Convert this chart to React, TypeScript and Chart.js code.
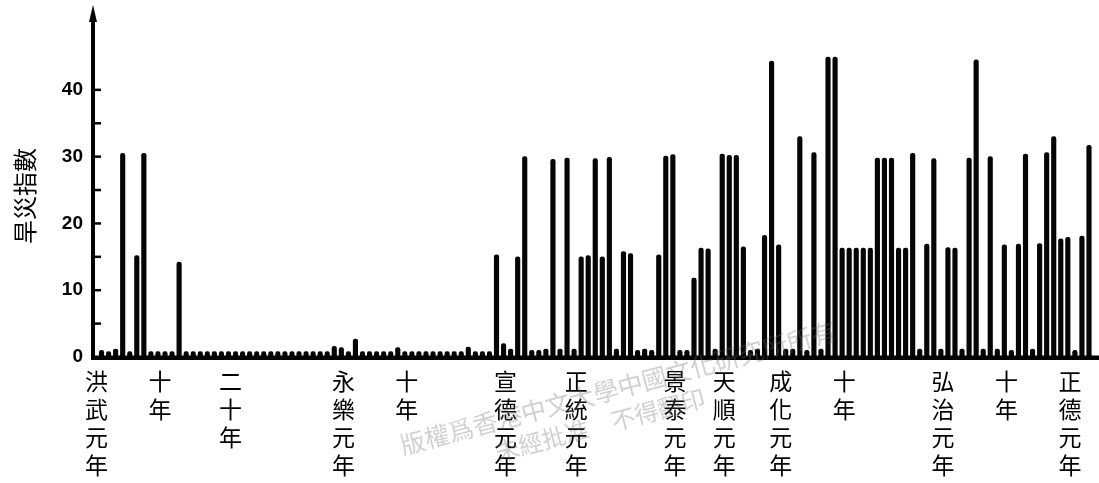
import React, { useEffect, useRef } from 'react';
import { Chart, registerables } from 'chart.js';

Chart.register(...registerables);

// Years from 洪武元年 (1368) to 1508
const firstYear = 1368;
const lastYear = 1508;
const years: string[] = [];
for (let y = firstYear; y <= lastYear; y++) years.push(String(y));

// Drought index, 1368-1423
const droughtEarly: number[] = [
  1, 0.8, 1.2, 30.5, 0.8, 15.2, 30.5, 0.8, 0.8, 0.8, 0.8, 14.2,
  0.8, 0.8, 0.8, 0.8, 0.8, 0.8, 0.8, 0.8, 0.8, 0.8, 0.8, 0.8, 0.8, 0.8, 0.8, 0.8, 0.8, 0.8, 0.8, 0.8, 0.8,
  1.6, 1.4, 0.8, 2.7,
  0.8, 0.8, 0.8, 0.8, 0.8,
  1.4,
  0.8, 0.8, 0.8, 0.8, 0.8, 0.8, 0.8, 0.8, 0.8,
  1.5, 0.8, 0.8, 0.8,
];

// Drought index, 1424-1508
const droughtLate: number[] = [
  15.3, 2, 1.2, 15, 30, 1, 1, 1.2, 29.6, 1.2,
  29.8, 1.2, 15, 15.2, 29.7, 15, 29.9, 1.2, 15.8, 15.5,
  1, 1.2, 1, 15.3, 30.1, 30.3, 1, 1, 11.8, 16.3,
  16.2, 1.2, 30.4, 30.2, 30.2, 16.5, 1, 1.2, 18.2, 44.3,
  16.8, 1.2, 1.2, 33, 1, 30.6, 1.2, 44.9, 44.9, 16.3,
  16.3, 16.3, 16.3, 16.3, 29.8, 29.8, 29.8, 16.3, 16.3, 30.5,
  1.2, 16.9, 29.7, 1.2, 16.4, 16.3, 1.2, 29.8, 44.5, 1.2,
  30, 1.2, 16.8, 1, 16.9, 30.4, 1.2, 17, 30.6, 33,
  17.7, 17.9, 1, 18.1, 31.7,
];

const droughtValues: number[] = [...droughtEarly, ...droughtLate];

// Reign-year tick labels
const labelYears: number[] = [1368, 1377, 1387, 1403, 1412, 1426, 1436, 1450, 1457, 1465, 1474, 1488, 1497, 1506];
const labelTexts: string[] = [
  '洪武元年', '十年', '二十年', '永樂元年', '十年', '宣德元年', '正統元年',
  '景泰元年', '天順元年', '成化元年', '十年', '弘治元年', '十年', '正德元年',
];

const yTicks: number[] = [0, 10, 20, 30, 40];
const yTitle = '旱災指數';
const watermark1 = '版權爲香港中文大學中國文化研究所所有';
const watermark2 = '未經批准　不得翻印';

const CJK = '"Noto Sans CJK TC", "Noto Sans CJK SC", sans-serif';

const decorPlugin = {
  id: 'decor',
  afterDraw(chart: any) {
    const { ctx, chartArea, scales } = chart;
    const ys = scales.y;
    const y0 = ys.getPixelForValue(0);
    const axisX = chartArea.left - 5;
    ctx.save();
    ctx.fillStyle = '#000';
    ctx.strokeStyle = '#000';
    // baseline
    ctx.fillRect(axisX - 2, y0 - 1.5, chart.width - axisX + 2, 4.5);
    // y axis line
    ctx.fillRect(axisX - 2, 16, 4, y0 + 3 - 16);
    // arrow head
    ctx.beginPath();
    ctx.moveTo(axisX, 5);
    ctx.lineTo(axisX - 4, 22);
    ctx.lineTo(axisX + 4, 22);
    ctx.closePath();
    ctx.fill();
    // tick marks
    ctx.lineWidth = 2.5;
    for (let v = 5; v <= 40; v += 5) {
      const py = ys.getPixelForValue(v);
      ctx.beginPath();
      ctx.moveTo(axisX, py);
      ctx.lineTo(axisX + 8, py);
      ctx.stroke();
    }
    // y title
    ctx.save();
    ctx.translate(25, 196);
    ctx.rotate(-Math.PI / 2);
    ctx.font = `24px ${CJK}`;
    ctx.textAlign = 'center';
    ctx.textBaseline = 'middle';
    ctx.fillText(yTitle, 0, 0);
    ctx.restore();
    // watermark
    ctx.fillStyle = 'rgba(110,110,110,0.32)';
    ctx.textAlign = 'center';
    ctx.textBaseline = 'middle';
    ctx.save();
    ctx.translate(618, 388);
    ctx.rotate(-0.26);
    ctx.font = `25px ${CJK}`;
    ctx.fillText(watermark1, 0, 0);
    ctx.restore();
    ctx.save();
    ctx.translate(600, 425);
    ctx.rotate(-0.26);
    ctx.font = `24px ${CJK}`;
    ctx.fillText(watermark2, 0, 0);
    ctx.restore();
    ctx.restore();
  },
};

export default function App() {
  const canvasRef = useRef<HTMLCanvasElement | null>(null);

  useEffect(() => {
    document.body.style.margin = '0';
    const canvas = canvasRef.current;
    if (!canvas) return;
    const labelMap: Record<string, string[]> = {};
    labelYears.forEach((y, i) => {
      labelMap[String(y)] = labelTexts[i].split('');
    });
    const chart = new Chart(canvas, {
      type: 'bar',
      data: {
        labels: years,
        datasets: [
          {
            data: droughtValues,
            backgroundColor: '#050505',
            borderWidth: 0,
            barThickness: 4.5,
            borderRadius: { topLeft: 2.2, topRight: 2.2, bottomLeft: 0, bottomRight: 0 },
            borderSkipped: 'start',
          },
        ],
      },
      options: {
        animation: false,
        responsive: true,
        maintainAspectRatio: false,
        layout: { padding: { left: 0, right: 2.1, top: 8.5, bottom: 0 } },
        plugins: { legend: { display: false }, tooltip: { enabled: false } },
        scales: {
          x: {
            type: 'category',
            grid: { display: false, drawTicks: false },
            border: { display: false },
            ticks: {
              autoSkip: false,
              maxRotation: 0,
              minRotation: 0,
              padding: 10,
              labelOffset: -5,
              color: '#000',
              font: { family: CJK, size: 23, lineHeight: '28px' as any },
              callback: (_v: any, index: number) => labelMap[years[index]] ?? '',
            },
            afterFit: (scale: any) => {
              scale.height = 126;
            },
          },
          y: {
            min: 0,
            max: 50,
            grid: { display: false, drawTicks: false },
            border: { display: false },
            afterBuildTicks: (scale: any) => {
              scale.ticks = yTicks.map((v) => ({ value: v }));
            },
            ticks: {
              padding: 15,
              color: '#000',
              font: { family: '"Liberation Sans", Arial, sans-serif', size: 19, weight: 'bold', lineHeight: 0.85 },
            },
            afterFit: (scale: any) => {
              scale.width = 98;
            },
          },
        },
      },
      plugins: [decorPlugin],
    });
    return () => chart.destroy();
  }, []);

  return (
    <div style={{ position: 'relative', width: '1099px', height: '483px', background: '#fff' }}>
      <canvas ref={canvasRef} />
    </div>
  );
}
